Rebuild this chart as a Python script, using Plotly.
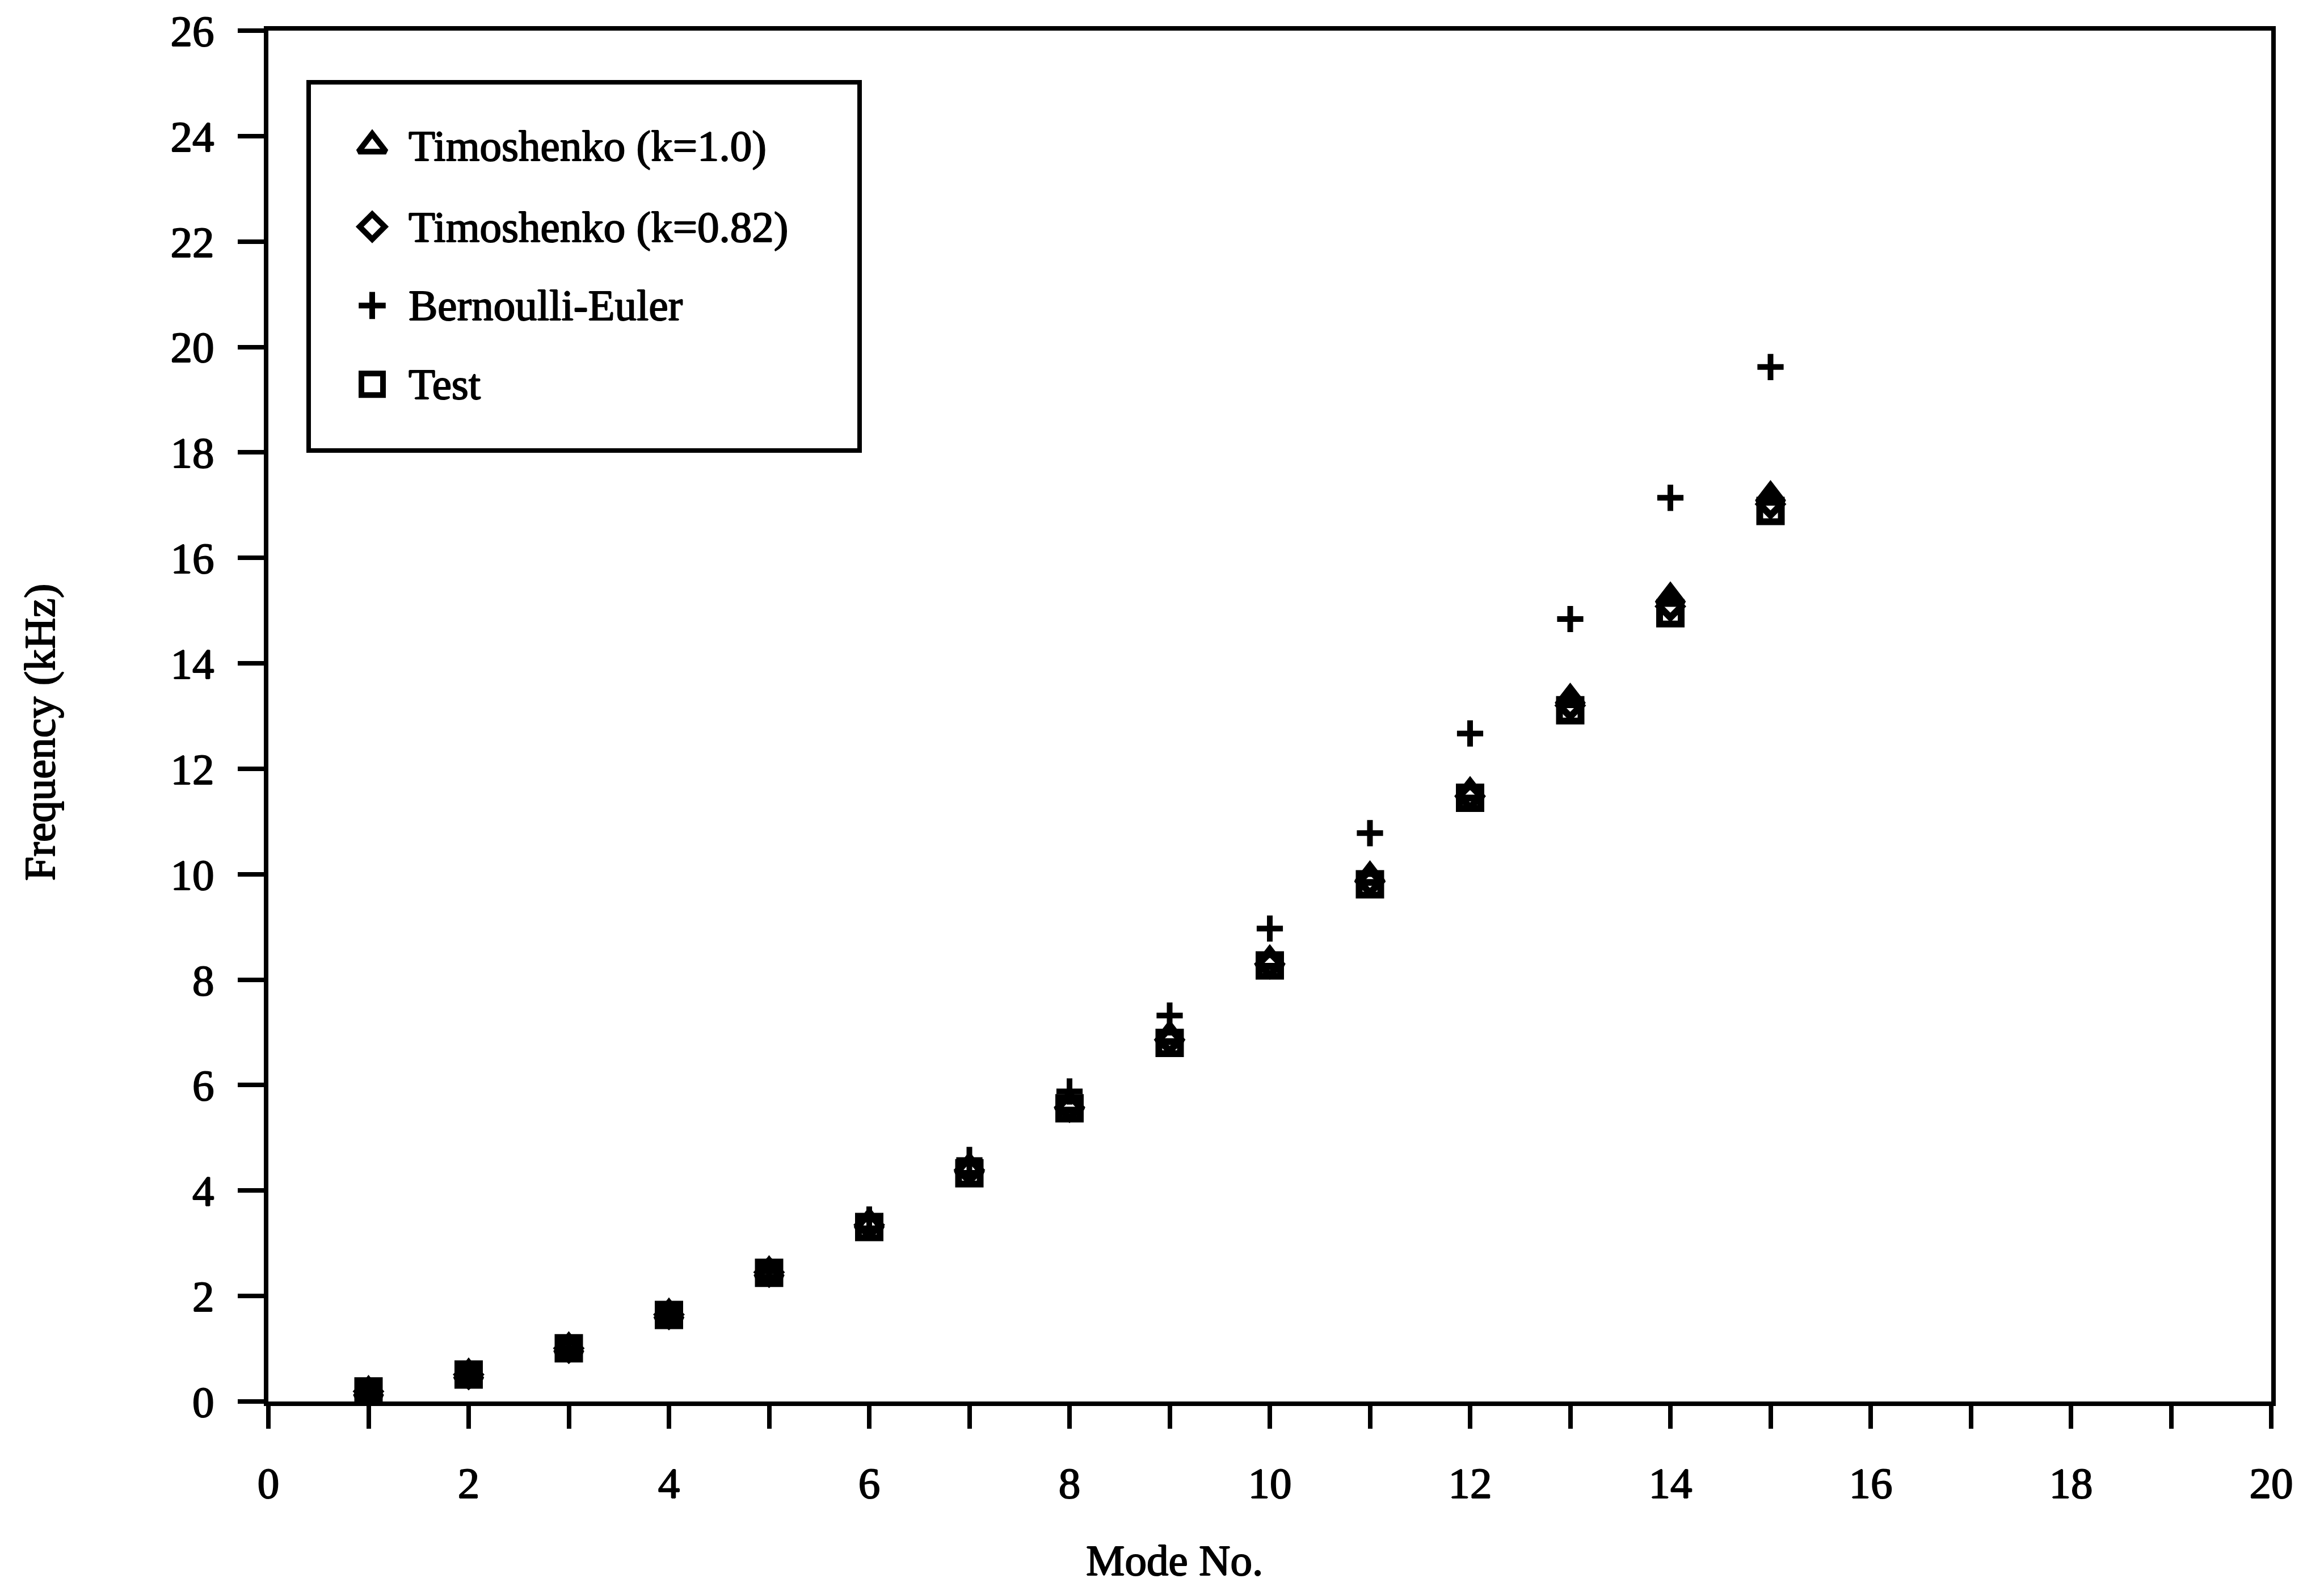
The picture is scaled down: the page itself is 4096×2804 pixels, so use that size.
import plotly.graph_objects as go

# Natural frequencies (kHz) of the first fifteen bending modes
modes = list(range(1, 16))
timoshenko_k100 = [0.19, 0.52, 1.02, 1.66, 2.46, 3.38, 4.43, 5.63, 6.93, 8.36, 9.95, 11.55, 13.32, 15.24, 17.16]
timoshenko_k082 = [0.19, 0.51, 1.01, 1.65, 2.45, 3.35, 4.39, 5.58, 6.86, 8.30, 9.86, 11.48, 13.20, 15.08, 17.02]
bernoulli_euler = [0.18, 0.51, 1.00, 1.66, 2.47, 3.45, 4.58, 5.88, 7.32, 8.97, 10.78, 12.67, 14.84, 17.14, 19.62]
test = [0.19, 0.51, 1.01, 1.64, 2.44, 3.31, 4.33, 5.56, 6.80, 8.27, 9.81, 11.45, 13.11, 14.95, 16.89]

series_names = ["Timoshenko (k=1.0)", "Timoshenko (k=0.82)", "Bernoulli-Euler", "Test"]
x_tick_vals = list(range(0, 21, 2))
y_tick_vals = list(range(0, 27, 2))

# page and plot-area geometry (pixels)
W, H = 4096, 2804
L, R, T, B = 473, 4003, 51, 2470
FS = 77
LW = 8
# heavy print-style lettering: a crisp 1px outline thickens the serif strokes
HEAVY = "1px 0px 0px black, -1px 0px 0px black, 0px 1px 0px black, 0px -1px 0px black"
TEXT_FONT = dict(family="Liberation Serif", size=FS, color="black", shadow=HEAVY)


def px_x(px):
    return (px - L) / (R - L)


def px_y(py):
    return (B - py) / (B - T)


series_values = [timoshenko_k100, timoshenko_k082, bernoulli_euler, test]
symbols = ["triangle-up-open", "diamond-open", "cross-thin", "square-open"]
data_sizes = [39, 30, 33, 38]
legend_sizes = [42, 34, 34, 38]
MARKER_LW = 12

fig = go.Figure()

for name, vals, sym, size in zip(series_names, series_values, symbols, data_sizes):
    fig.add_trace(go.Scatter(
        x=modes, y=vals, name=name, mode="markers",
        marker=dict(symbol=sym, size=size, color="black", opacity=1,
                    line=dict(width=MARKER_LW if sym != "cross-thin" else 10,
                              color="black")),
        showlegend=False, cliponaxis=False,
    ))

# legend keys, drawn on an overlay axis spanning the plot area
legend_key_x = px_x(656)
legend_row_y = [px_y(v) for v in (254, 397, 536, 675)]
fig.add_trace(go.Scatter(
    x=[legend_key_x] * 4, y=legend_row_y, mode="markers",
    xaxis="x2", yaxis="y2", hoverinfo="skip", showlegend=False, cliponaxis=False,
    marker=dict(symbol=symbols, size=legend_sizes, color="black", opacity=1,
                line=dict(width=10, color="black")),
))

annotations = []
for name, yy in zip(series_names, legend_row_y):
    annotations.append(dict(
        text=name, x=px_x(718), y=yy, xref="paper", yref="paper",
        xanchor="left", yanchor="middle", showarrow=False, font=TEXT_FONT,
    ))

annotations.append(dict(
    text="Mode No.", x=px_x(2070), y=px_y(2750), xref="paper", yref="paper",
    xanchor="center", yanchor="middle", showarrow=False, font=TEXT_FONT,
))
annotations.append(dict(
    text="Frequency (kHz)", x=px_x(70), y=px_y(1289), xref="paper", yref="paper",
    xanchor="center", yanchor="middle", showarrow=False, textangle=-90,
    font=TEXT_FONT,
))

shapes = [dict(
    type="rect", xref="paper", yref="paper",
    x0=px_x(544), x1=px_x(1515), y0=px_y(792), y1=px_y(142),
    line=dict(color="black", width=LW), fillcolor="rgba(0,0,0,0)",
)]

axis_common = dict(
    showgrid=False, zeroline=False, showline=True, linecolor="black",
    linewidth=LW, mirror=True, ticks="outside", tickcolor="black",
    tickwidth=LW, tickfont=TEXT_FONT,
)

fig.update_layout(
    width=W, height=H,
    margin=dict(l=L, r=W - R, t=T, b=H - B),
    paper_bgcolor="white", plot_bgcolor="white",
    xaxis=dict(range=[0, 20], tickmode="array", tickvals=x_tick_vals,
               ticklen=40, ticklabelstandoff=30,
               minor=dict(dtick=1, ticks="outside", ticklen=40, tickwidth=LW,
                          tickcolor="black", showgrid=False),
               **axis_common),
    yaxis=dict(range=[0, 26], tickmode="array", tickvals=y_tick_vals,
               ticklen=46, ticklabelstandoff=26, **axis_common),
    xaxis2=dict(overlaying="x", range=[0, 1], visible=False),
    yaxis2=dict(overlaying="y", range=[0, 1], visible=False),
    annotations=annotations, shapes=shapes,
    showlegend=False,
)

fig.write_html("out.html")
